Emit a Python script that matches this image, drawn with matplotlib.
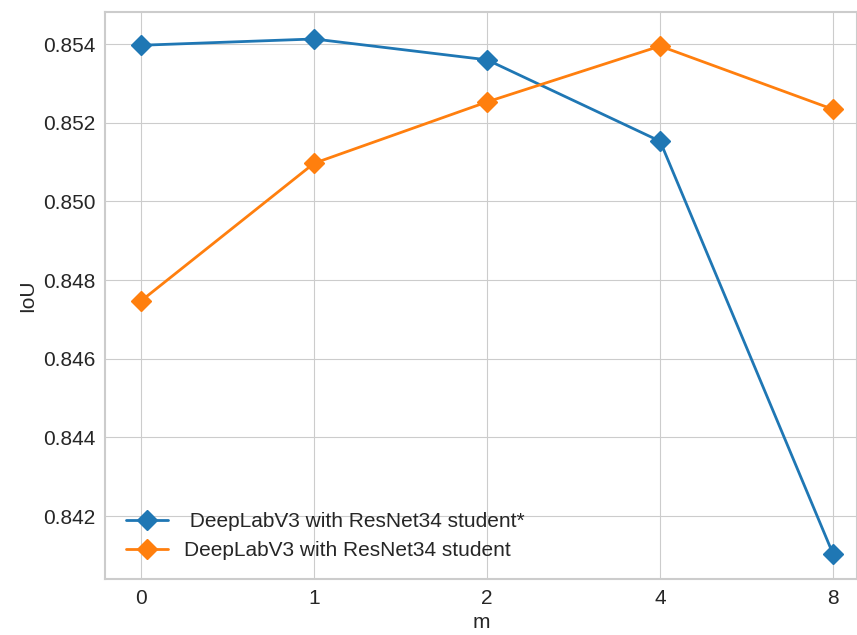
import matplotlib
matplotlib.use("Agg")
import matplotlib.pyplot as plt

# IoU for different values of m
m_labels = ["0", "1", "2", "4", "8"]
iou_star = [0.85397, 0.85413, 0.85360, 0.85153, 0.84103]
iou_student = [0.84747, 0.85097, 0.85253, 0.85395, 0.85234]


def main():
    plt.style.use("seaborn-v0_8-whitegrid")
    plt.rcParams["font.family"] = ["Liberation Sans", "DejaVu Sans"]
    plt.rcParams["font.size"] = 15

    fig = plt.figure(figsize=(8.57, 6.35), dpi=100)
    ax = fig.add_axes([0.1225, 0.088, 0.878, 0.893])

    xs = range(len(m_labels))
    ax.plot(xs, iou_star, marker="D", markersize=10, linewidth=2,
            label=" DeepLabV3 with ResNet34 student*")
    ax.plot(xs, iou_student, marker="D", markersize=10, linewidth=2,
            label="DeepLabV3 with ResNet34 student")

    ax.set_xticks(list(xs))
    ax.set_xticklabels(m_labels)
    ax.set_xlim(-0.208, 4.14)
    ax.set_ylim(0.8404, 0.854814)
    ax.set_yticks([0.842, 0.844, 0.846, 0.848, 0.850, 0.852, 0.854])
    ax.yaxis.set_major_formatter(matplotlib.ticker.FormatStrFormatter("%.3f"))
    ax.tick_params(axis="x", pad=7)
    ax.tick_params(axis="y", pad=7)
    ax.set_xlabel("m", labelpad=4)
    ax.set_ylabel("IoU", labelpad=4)
    for s in ax.spines.values():
        s.set_visible(True)
        s.set_color("#cccccc")
        s.set_linewidth(1.5)
    ax.legend(loc="lower left", frameon=False, fontsize=15,
              bbox_to_anchor=(0.003, 0.0))

    fig.savefig("out.png", dpi=100)


if __name__ == "__main__":
    main()
